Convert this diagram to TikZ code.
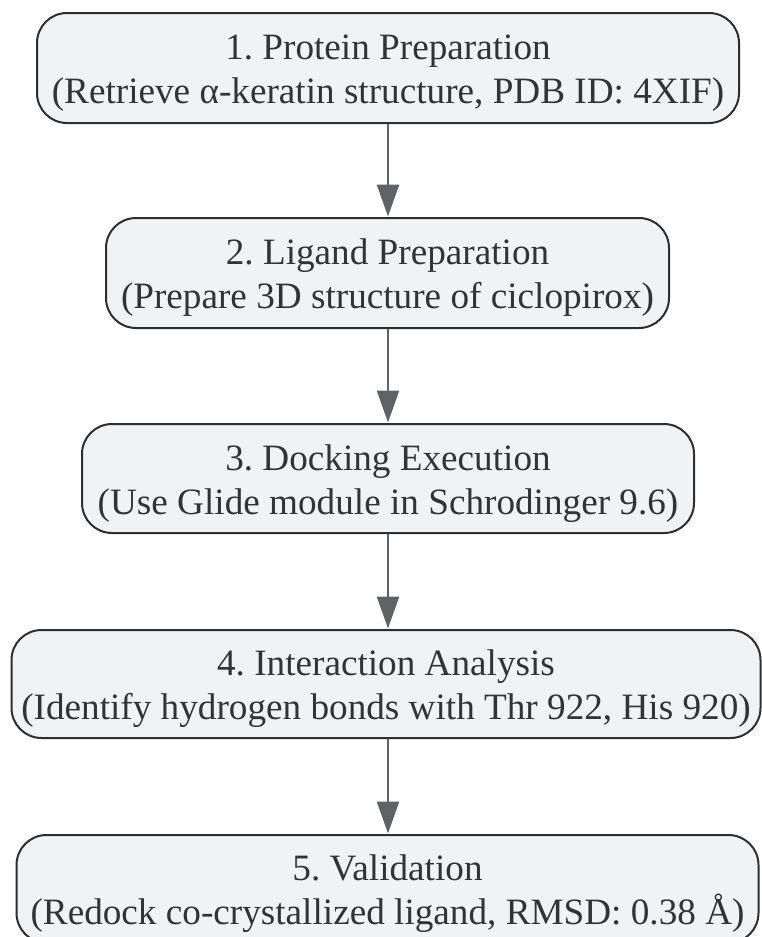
\documentclass[tikz,border=0pt]{standalone}
\usepackage{fontspec}
\setmainfont{Liberation Serif}
\frenchspacing
\usetikzlibrary{arrows.meta}
\definecolor{boxfill}{HTML}{F1F2F4}
\definecolor{boxline}{HTML}{2E2E2E}
\definecolor{arrowcol}{HTML}{5F6368}
\definecolor{txt}{HTML}{333333}
\tikzset{
  stepbox/.style={draw=boxline, line width=2pt, fill=boxfill, rounded corners=30pt,
    inner sep=0pt},
  steptext/.style={inner sep=0pt, align=center, text=txt,
    font=\fontsize{37.2}{44}\selectfont},
  flow/.style={draw=arrowcol, line width=2.5pt,
    -{Triangle[length=32pt,width=22pt]}, shorten >=0.5pt}
}
\begin{document}
\begin{tikzpicture}[x=1pt,y=1pt]
\useasboundingbox (0,0) rectangle (762,-937);
\clip (0,0) rectangle (762,-937);
\node[stepbox, minimum width=702pt, minimum height=110pt] (s1) at (388,-68) {};
\node[steptext] (t1) at ([yshift=-5pt]s1.center)
  {1. Protein Preparation\\(Retrieve α-keratin structure, PDB ID: 4XIF)};
\node[stepbox, minimum width=563pt, minimum height=110pt] (s2) at (387.5,-273) {};
\node[steptext] (t2) at ([yshift=-5pt]s2.center)
  {2. Ligand Preparation\\(Prepare 3D structure of ciclopirox)};
\node[stepbox, minimum width=612pt, minimum height=109pt] (s3) at (388,-478.5) {};
\node[steptext] (t3) at ([yshift=-5pt]s3.center)
  {3. Docking Execution\\(Use Glide module in Schrodinger 9.6)};
\node[stepbox, minimum width=749pt, minimum height=108pt] (s4) at (386,-684) {};
\node[steptext] (t4) at ([yshift=-5pt]s4.center)
  {4. Interaction Analysis\\(Identify hydrogen bonds with Thr 922, His 920)};
\node[stepbox, minimum width=742pt, minimum height=108pt] (s5) at (387.5,-889) {};
\node[steptext] (t5) at ([yshift=-5pt]s5.center)
  {5. Validation\\(Redock co-crystallized ligand, RMSD: 0.38 Å)};
\draw[flow] (s1.south -| 388,0) -- (s2.north -| 388,0);
\draw[flow] (s2.south -| 388,0) -- (s3.north -| 388,0);
\draw[flow] (s3.south -| 388,0) -- (s4.north -| 388,0);
\draw[flow] (s4.south -| 388,0) -- (s5.north -| 388,0);
\end{tikzpicture}
\end{document}
